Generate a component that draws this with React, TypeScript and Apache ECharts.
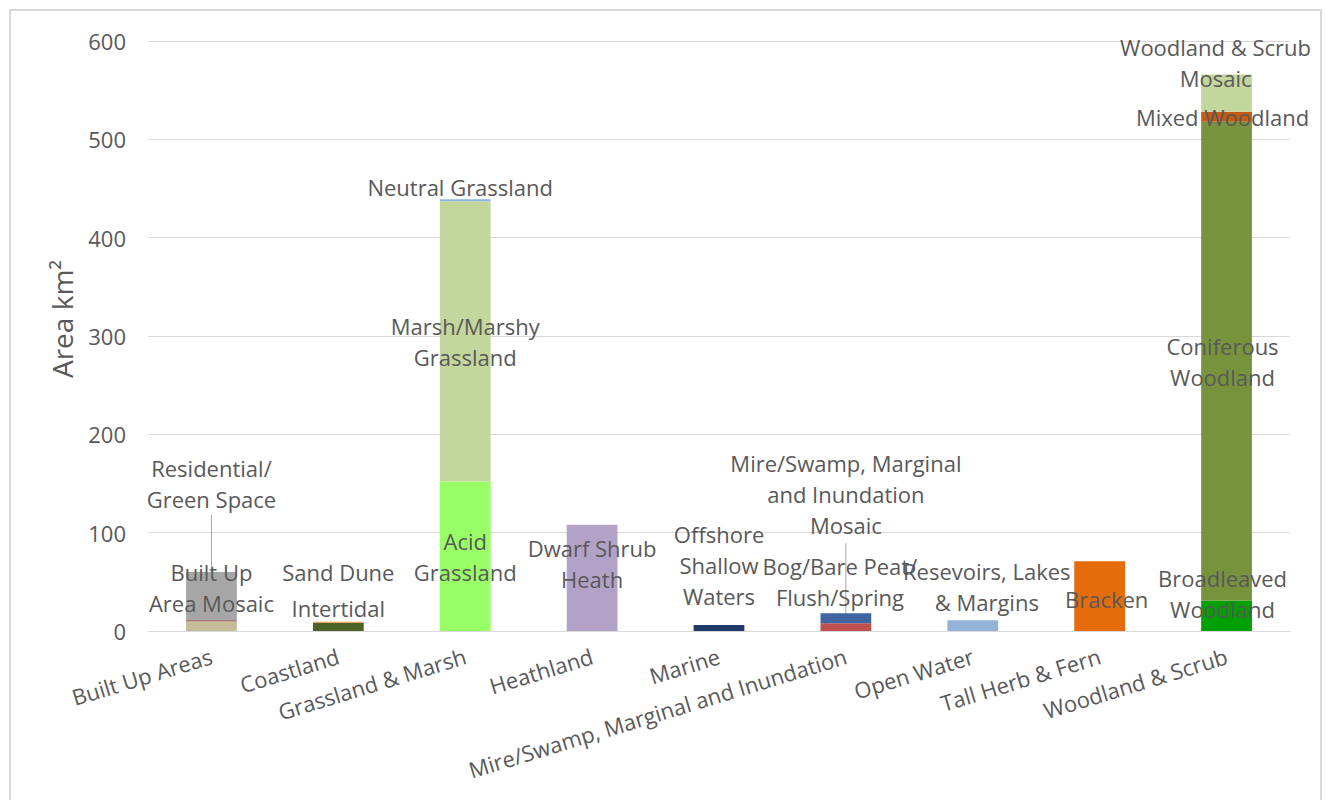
import React, { useEffect, useRef } from "react";
import * as echarts from "echarts";

const categories = [
  "Built Up Areas",
  "Coastland",
  "Grassland & Marsh",
  "Heathland",
  "Marine",
  "Mire/Swamp, Marginal and Inundation",
  "Open Water",
  "Tall Herb & Fern",
  "Woodland & Scrub",
];

// habitat sub-types, stacked bottom to top inside each category
const subNames = [
  "Urban Fringe",
  "Residential/\nGreen Space",
  "Built Up\nArea Mosaic",
  "Intertidal",
  "Sand Dune",
  "Acid\nGrassland",
  "Marsh/Marshy\nGrassland",
  "Neutral Grassland",
  "Dwarf Shrub\nHeath",
  "Offshore\nShallow\nWaters",
  "Bog/Bare Peat/\nFlush/Spring",
  "Mire/Swamp, Marginal\nand Inundation\nMosaic",
  "Resevoirs, Lakes\n& Margins",
  "Bracken",
  "Broadleaved\nWoodland",
  "Coniferous\nWoodland",
  "Mixed Woodland",
  "Woodland & Scrub\nMosaic",
];
const subCategory = [0, 0, 0, 1, 1, 2, 2, 2, 3, 4, 5, 5, 6, 7, 8, 8, 8, 8];
const subValues = [10, 1, 49, 8.5, 1, 152, 285, 2, 108, 6, 8, 10, 11, 71, 31, 487, 10, 38];
const subColors = [
  "#c4bd97", "#953735", "#a6a6a6",
  "#4f6228", "#f79646",
  "#99ff66", "#c3d69b", "#8eb4e3",
  "#b3a2c7",
  "#1f3864",
  "#c0504d", "#3f66a0",
  "#95b3d7",
  "#e46c0a",
  "#00a000", "#77933c", "#c55a11", "#c3d69b",
];
const showLabel = [false, true, true, true, true, true, true, true, true, true, true, true, true, true, true, true, true, true];
const labelOffsets: number[][] = [
  [0, 0], [0, -137], [0, -9],
  [0, -19], [0, -50],
  [0, 0], [0, 0], [-5, -13],
  [0, -14],
  [0, -63],
  [-6, -46], [0, -124],
  [14, -39],
  [7, 3],
  [-4, -22], [-4, 0], [-4, 0], [-11, -31],
];

const FONT = "'Open Sans', 'Noto Sans', sans-serif";
const TEXT = "#595959";

export default function App() {
  const ref = useRef<HTMLDivElement>(null);
  useEffect(() => {
    if (!ref.current) return;
    const chart = echarts.init(ref.current, undefined, { renderer: "svg" });
    const series = subNames.map((name, i) => {
      const data = categories.map((_, c) => (c === subCategory[i] ? subValues[i] : null));
      return {
        name,
        type: "bar",
        stack: "total",
        barWidth: "40%",
        data,
        itemStyle: { color: subColors[i] },
        label: {
          show: showLabel[i],
          position: "inside",
          formatter: name,
          offset: labelOffsets[i],
          color: TEXT,
          fontSize: 22,
          fontFamily: FONT,
          lineHeight: 31,
          align: "center",
        },
      };
    });
    chart.setOption({
      animation: false,
      backgroundColor: "#ffffff",
      grid: { left: 148, right: 35, top: 41, bottom: 169 },
      xAxis: {
        type: "category",
        data: categories,
        axisLine: { lineStyle: { color: "#d9d9d9", width: 1 } },
        axisTick: { show: false },
        axisLabel: {
          interval: 0,
          rotate: 17,
          margin: 24,
          color: TEXT,
          fontSize: 22,
          fontFamily: FONT,
        },
      },
      yAxis: {
        type: "value",
        min: 0,
        max: 600,
        interval: 100,
        axisLine: { show: false },
        axisTick: { show: false },
        splitLine: { lineStyle: { color: "#d9d9d9", width: 1 } },
        axisLabel: { color: TEXT, fontSize: 22, fontFamily: FONT, margin: 22 },
      },
      series,
    });

    const px = (c: number, v: number) =>
      chart.convertToPixel({ xAxisIndex: 0, yAxisIndex: 0 }, [c, v]) as number[];
    const resTop = px(0, 10.5)[1] - 137 + 31;
    const builtTop = px(0, 60);
    const mireLabelBottom = px(5, 13)[1] - 124 + 49;
    const mireTop = px(5, 18);
    const bogPt = px(5, 4);
    chart.setOption({
      graphic: [
        {
          type: "rect",
          shape: { x: 10, y: 10, width: 1311, height: 800 },
          style: { fill: "none", stroke: "#d9d9d9", lineWidth: 2 },
          silent: true,
        },
        {
          type: "text",
          x: 62,
          y: 319,
          rotation: Math.PI / 2,
          style: {
            text: "Area km²",
            fill: TEXT,
            fontSize: 28,
            fontFamily: FONT,
            align: "center",
            verticalAlign: "middle",
          },
        },
        {
          type: "line",
          shape: { x1: builtTop[0], y1: resTop, x2: builtTop[0], y2: builtTop[1] },
          style: { stroke: "#a6a6a6", lineWidth: 1 },
        },
        {
          type: "line",
          shape: { x1: mireTop[0], y1: mireLabelBottom, x2: mireTop[0], y2: mireTop[1] },
          style: { stroke: "#a6a6a6", lineWidth: 1 },
        },
        {
          type: "line",
          shape: { x1: bogPt[0] - 26, y1: bogPt[1], x2: mireTop[0] - 6, y2: mireTop[1] },
          style: { stroke: "#a6a6a6", lineWidth: 1 },
        },
      ],
    });
    return () => chart.dispose();
  }, []);
  return (
    <div
      ref={ref}
      style={{ position: "fixed", left: 0, top: 0, width: 1325, height: 800, background: "#fff" }}
    />
  );
}
